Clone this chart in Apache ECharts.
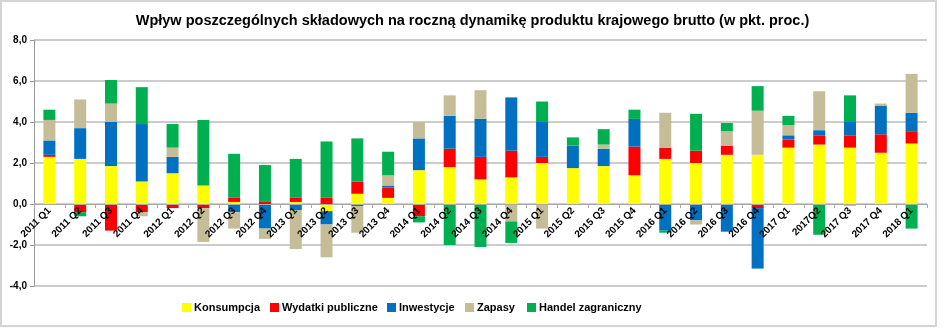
<!DOCTYPE html>
<html>
<head>
<meta charset="utf-8">
<script src="https://cdn.jsdelivr.net/npm/echarts@6/dist/echarts.min.js"></script>
<style>
html,body{margin:0;padding:0;background:#fff;}
#c{width:945px;height:328px;}
</style>
</head>
<body>
<div id="c"></div>
<script>
const categories = ['2011 Q1','2011 Q2','2011 Q3','2011 Q4','2012 Q1','2012 Q2','2012 Q3','2012 Q4',
  '2013 Q1','2013 Q2','2013 Q3','2013 Q4','2014 Q1','2014 Q2','2014 Q3','2014 Q4',
  '2015 Q1','2015 Q2','2015 Q3','2015 Q4','2016 Q1','2016 Q2','2016 Q3','2016 Q4',
  '2017 Q1','2017Q2','2017 Q3','2017 Q4','2018 Q1'];
const konsumpcja = [2.3,2.2,1.85,1.1,1.5,0.9,0.1,0.0,0.1,-0.35,0.5,0.3,1.65,1.8,1.2,1.3,2.0,1.75,1.85,1.4,2.2,2.0,2.4,2.4,2.75,2.9,2.75,2.5,2.95];
const wydatki = [0.1,-0.4,-1.3,-0.4,-0.2,-0.2,0.2,0.1,0.2,0.3,0.6,0.5,-0.6,0.9,1.1,1.3,0.3,0.0,0.0,1.4,0.55,0.6,0.45,-0.2,0.4,0.45,0.6,0.9,0.6];
const inwestycje = [0.7,1.5,2.15,2.8,0.8,0.0,-0.4,-1.2,-0.3,-0.65,-0.1,0.1,1.55,1.6,1.85,2.6,1.7,1.1,0.85,1.35,-1.3,-0.8,-1.35,-2.95,0.2,0.25,0.65,1.4,0.9];
const zapasy = [1.0,1.4,0.9,-0.2,0.45,-1.65,-0.8,-0.5,-1.9,-1.6,-1.3,0.5,0.8,1.0,1.4,-0.85,-1.2,0.0,0.2,0.0,1.7,-0.2,0.7,2.15,0.5,1.9,-0.1,0.1,1.9];
const handel = [0.5,-0.2,1.15,1.8,1.15,3.2,2.15,1.8,1.9,2.75,2.1,1.15,-0.3,-2.0,-2.1,-1.05,1.0,0.4,0.75,0.45,-0.1,1.8,0.4,1.2,0.45,-1.5,1.3,0.0,-1.2];
const seriesNames = ['Konsumpcja','Wydatki publiczne','Inwestycje','Zapasy','Handel zagraniczny'];
const seriesColors = ['#FFFF00','#FF0000','#0070C0','#C4BD97','#00B050'];
const yTicks = {min:-4, max:8, interval:2};
const titleText = 'Wpływ poszczególnych składowych na roczną dynamikę produktu krajowego brutto (w pkt. proc.)';

const dataSets = [konsumpcja, wydatki, inwestycje, zapasy, handel];
const font = '"Liberation Sans", Arial, sans-serif';
const legendLefts = [182, 270, 387, 465, 527];
const gridTop = 40, gridBottom = 42, plotH = 328 - gridTop - gridBottom;
// shift x axis from bottom up to the zero line
const zeroOffset = -plotH * (0 - yTicks.min) / (yTicks.max - yTicks.min);

const chart = echarts.init(document.getElementById('c'), null, {renderer:'canvas'});
chart.setOption({
  animation:false,
  backgroundColor:'#fff',
  title:{text:titleText,left:'center',top:8,
    textStyle:{fontFamily:font,fontSize:14.5,fontWeight:'bold',color:'#000'}},
  graphic:[{type:'rect',shape:{x:1,y:1,width:935,height:325},
    style:{fill:'none',stroke:'#d4d4d4',lineWidth:2},silent:true,z:-1}],
  legend:seriesNames.map((n,i)=>({left:legendLefts[i],top:302,padding:0,itemWidth:9,itemHeight:9,itemGap:10,icon:'rect',
    textStyle:{fontFamily:font,fontSize:11,fontWeight:'bold',color:'#000',padding:[0,0,0,-2]},
    data:[n]})),
  grid:{left:34,right:18,top:gridTop,bottom:gridBottom,containLabel:false},
  xAxis:{type:'category',data:categories,z:10,position:'bottom',offset:zeroOffset,
    axisLine:{onZero:false,lineStyle:{color:'#aaaaaa',width:1}},
    axisTick:{show:true,alignWithLabel:false,length:4,lineStyle:{color:'#aaaaaa'}},
    axisLabel:{interval:0,rotate:45,margin:5,fontFamily:font,fontSize:10,fontWeight:'bold',color:'#000'},
    splitLine:{show:false}},
  yAxis:{type:'value',min:yTicks.min,max:yTicks.max,interval:yTicks.interval,
    axisLine:{show:true,lineStyle:{color:'#999999'}},
    axisTick:{show:true,length:4,lineStyle:{color:'#999999'}},
    axisLabel:{margin:7,fontFamily:font,fontSize:10,fontWeight:'bold',color:'#000',
      formatter:v=>v.toFixed(1).replace('.',',')},
    splitLine:{show:true,lineStyle:{color:'#cccccc',width:2}}},
  series:dataSets.map((d,i)=>({
    name:seriesNames[i],type:'bar',stack:'gdp',data:d,barWidth:12,
    itemStyle:{color:seriesColors[i]}
  }))
});
</script>
</body>
</html>
